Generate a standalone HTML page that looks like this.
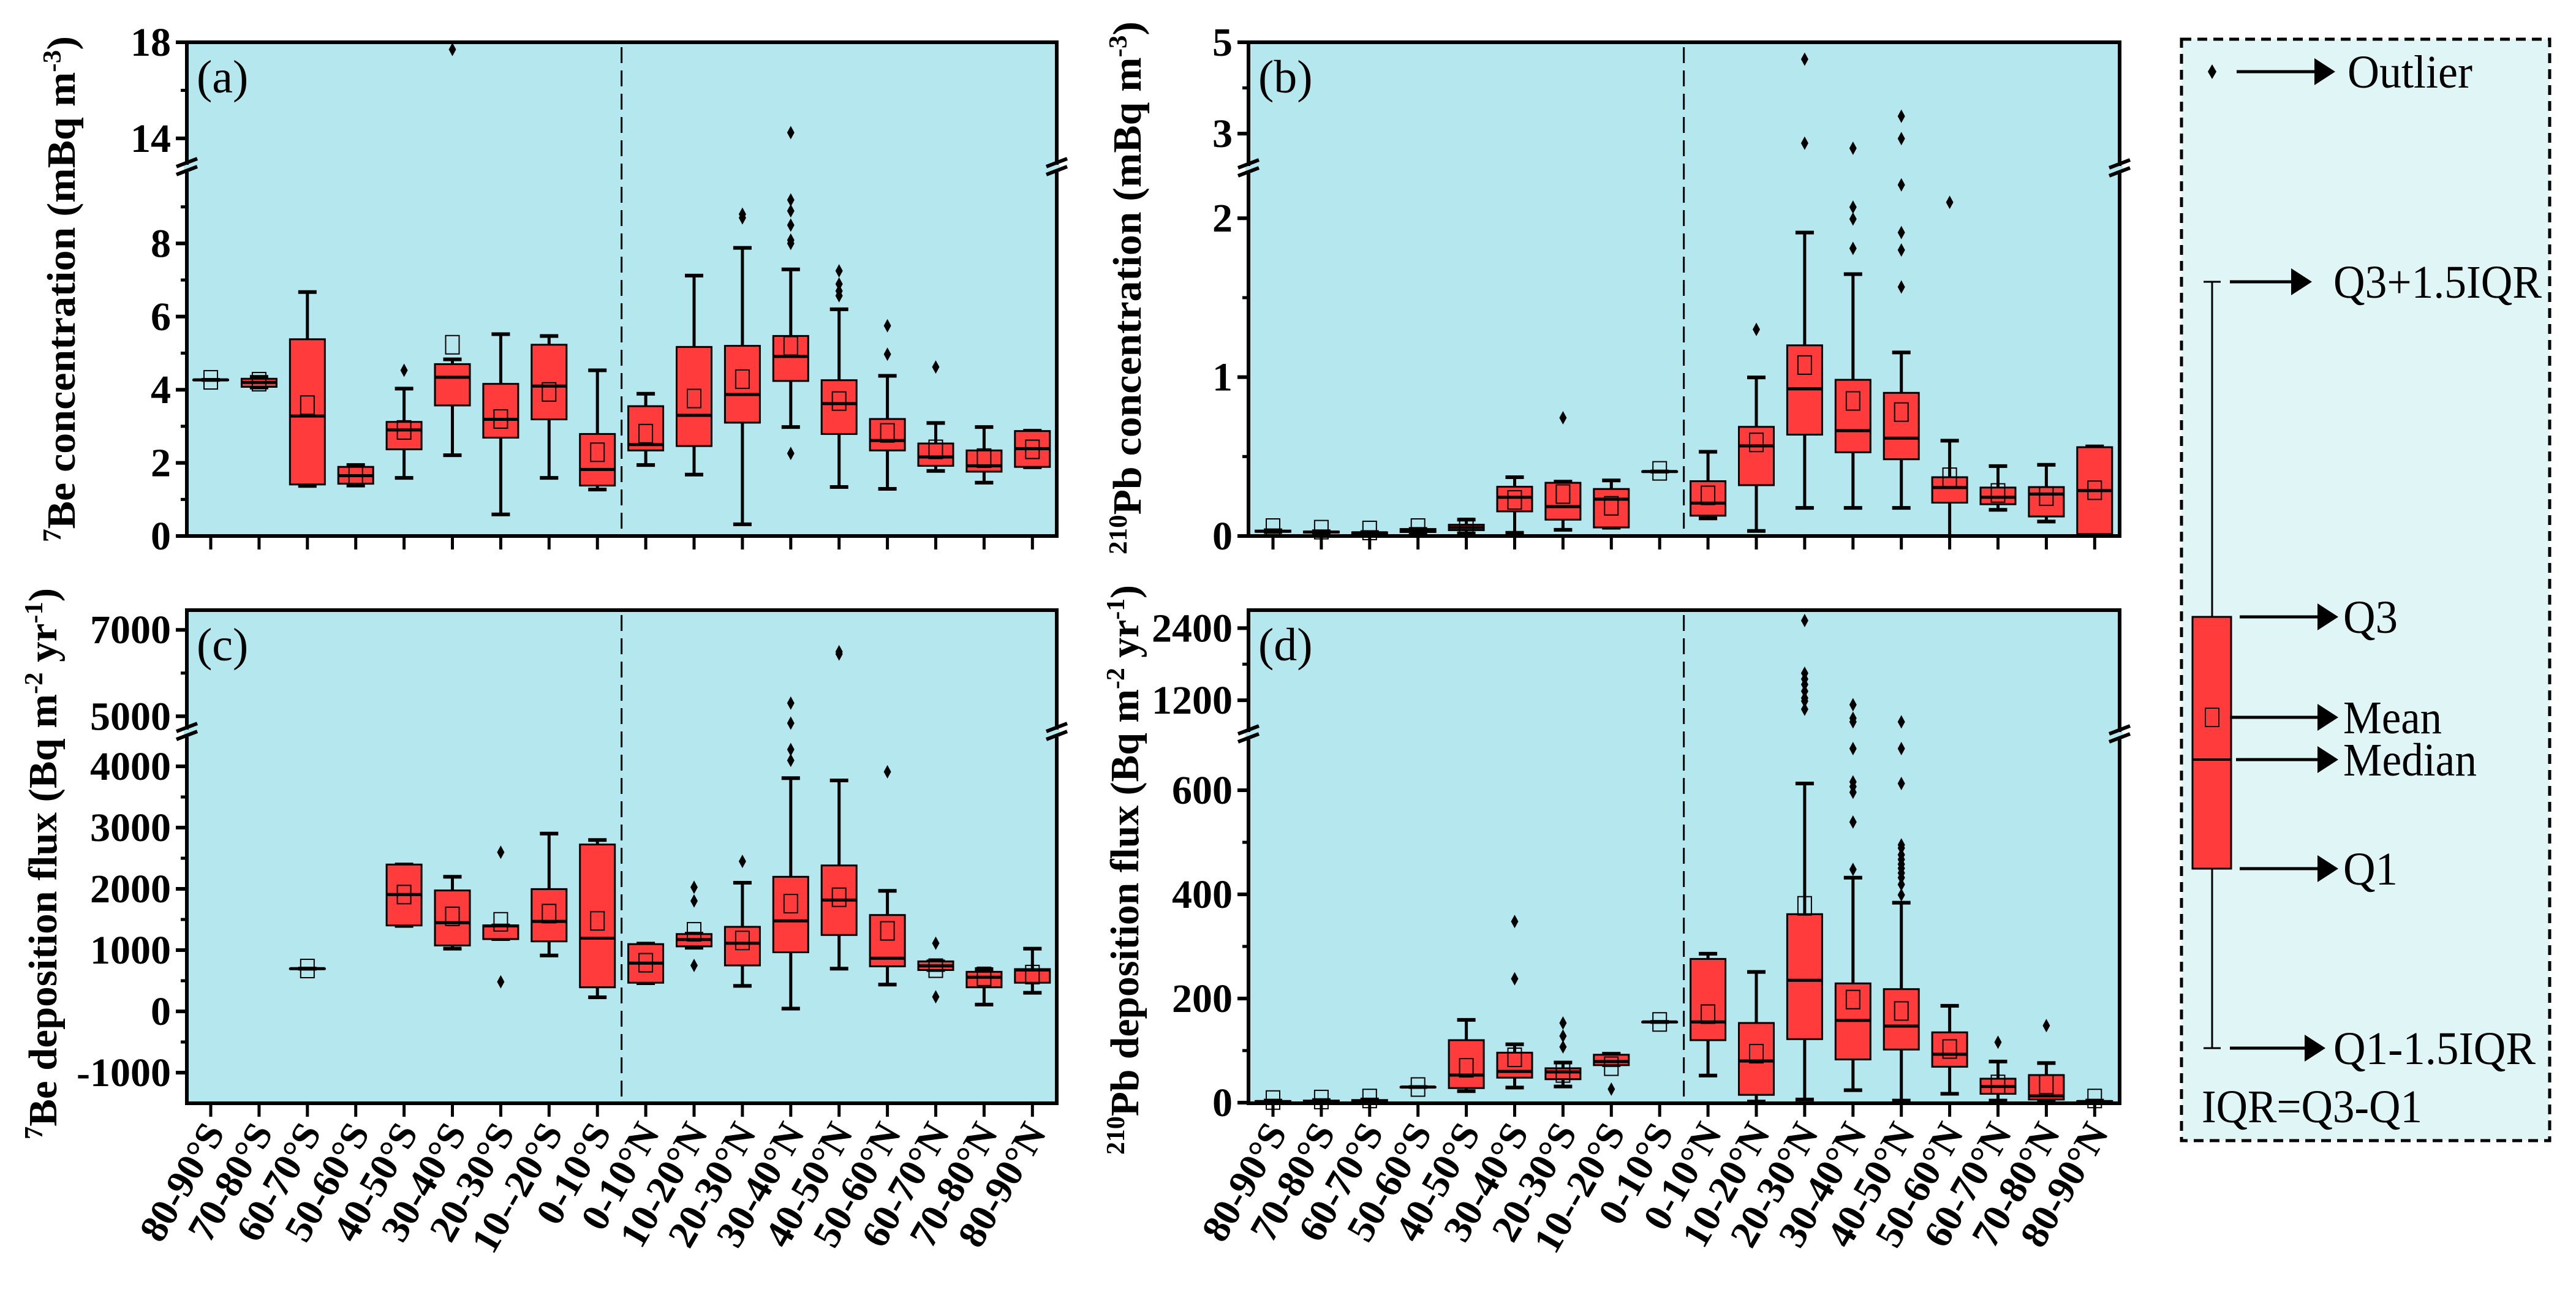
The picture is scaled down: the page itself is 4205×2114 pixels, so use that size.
<!DOCTYPE html>
<html><head><meta charset="utf-8">
<style>
html,body{margin:0;padding:0;background:#fff;}
svg{display:block;}
text{font-family:"Liberation Serif",serif;}
</style></head>
<body>
<svg id="fig" width="4205" height="2114" viewBox="0 0 4205 2114" xmlns="http://www.w3.org/2000/svg">
<g id="root"></g>
</svg>
<script>
const categories=["80-90°S","70-80°S","60-70°S","50-60°S","40-50°S","30-40°S","20-30°S","10--20°S","0-10°S","0-10°N","10-20°N","20-30°N","30-40°N","40-50°N","50-60°N","60-70°N","70-80°N","80-90°N"];

// Panel (a) 7Be concentration
const aLo=[4.27,4.06,1.37,1.38,1.59,2.21,0.59,1.59,1.27,1.94,1.68,0.32,2.98,1.34,1.29,1.78,1.46,1.88];
const aQ1=[4.27,4.08,1.41,1.43,2.37,3.57,2.69,3.19,1.38,2.34,2.46,3.10,4.24,2.79,2.34,1.92,1.76,1.89];
const aMed=[4.27,4.20,3.28,1.65,2.90,4.34,3.19,4.10,1.82,2.50,3.30,3.87,4.91,3.62,2.61,2.16,1.92,2.39];
const aQ3=[4.27,4.30,5.38,1.89,3.12,4.70,4.16,5.23,2.79,3.55,5.17,5.20,5.47,4.26,3.20,2.53,2.34,2.87];
const aHi=[4.27,4.35,6.67,1.94,4.03,4.83,5.52,5.47,4.53,3.89,7.12,7.88,7.29,6.20,4.38,3.09,2.98,2.88];
const aMean=[4.27,4.22,3.58,1.68,2.90,5.23,3.20,3.94,2.29,2.80,3.76,4.29,5.20,3.69,2.82,2.37,2.13,2.37];
const aOut=[[],[],[],[],[4.53],[17.7],[],[],[],[],[],[8.7,8.8],[2.26,8.0,8.09,8.5,8.89,9.19,14.24],[7.25,6.89,6.7,6.57],[4.97,5.75],[4.62],[],[]];

// Panel (b) 210Pb concentration
const bLo=[0.025,0.02,0.015,0.022,0.017,0.02,0.039,0.052,0.406,0.111,0.032,0.177,0.177,0.177,0.0,0.165,0.091,0.007];
const bQ1=[0.027,0.022,0.017,0.025,0.037,0.155,0.103,0.054,0.406,0.128,0.32,0.638,0.527,0.483,0.21,0.2,0.123,0.012];
const bMed=[0.03,0.025,0.02,0.035,0.054,0.244,0.185,0.232,0.406,0.207,0.567,0.926,0.663,0.616,0.305,0.244,0.264,0.286];
const bQ3=[0.034,0.028,0.023,0.044,0.071,0.31,0.335,0.296,0.406,0.345,0.687,1.2,0.983,0.901,0.37,0.305,0.308,0.559];
const bHi=[0.036,0.03,0.025,0.045,0.103,0.37,0.342,0.35,0.406,0.53,0.998,1.91,1.648,1.155,0.6,0.44,0.448,0.564];
const bMean=[0.05,0.04,0.035,0.05,0.054,0.227,0.264,0.19,0.41,0.256,0.589,1.076,0.85,0.78,0.37,0.271,0.251,0.288];
const bOut=[[],[],[],[],[],[],[0.744],[],[],[],[1.3],[2.79,4.63],[1.81,1.995,2.07,2.68],[1.567,1.8,1.91,2.21,2.89,3.38],[2.1],[],[],[]];

// Panel (c) 7Be deposition flux
const cLo=[null,null,698,null,1395,1024,1180,913,230,460,1039,416,45,698,438,675,111,304];
const cQ1=[null,null,698,null,1403,1076,1180,1143,393,468,1061,750,965,1247,735,675,393,468];
const cMed=[null,null,698,null,1907,1447,1395,1469,1195,787,1173,1113,1477,1818,868,742,557,675];
const cQ3=[null,null,698,null,2397,1974,1403,1996,2724,1098,1262,1380,2197,2382,1573,816,646,690];
const cHi=[null,null,698,null,2397,2197,1403,2902,2798,1106,1269,2100,3807,3770,1967,816,690,1024];
const cMean=[null,null,700,null,1907,1551,1462,1596,1477,794,1299,1158,1759,1863,1314,705,571,601];
const cOut=[[],[],[],[],[],[],[2597,482],[],[],[],[2026,1803,750],[2449],[4097,4275,4842,5305],[6442,6494],[3911],[1113,237],[],[]];

// Panel (d) 210Pb deposition flux
const dLo=[0,0,0,30,22,29,31,72,155,52,2,6,24,4,17,4,4,0];
const dQ1=[1,1,1,30,28,48,45,72,155,120,15,122,83,102,69,17,6,1];
const dMed=[2,2,3,30,53,60,59,79,155,155,80,235,158,147,93,31,13,2];
const dQ3=[3,4,5,30,120,96,66,92,155,276,153,362,229,218,135,46,53,3];
const dHi=[4,5,6,30,159,112,77,94,155,286,251,613,432,384,186,79,76,4];
const dMean=[5,6,8,30,67,87,57,70,155,170,94,378,198,176,103,35,35,8];
const dOut=[[],[],[],[],[],[238,348],[107,128,153],[26],[],[],[],[1050,1185,1237,1350,1462,1552,1650,2527],[448,539,596,607,616,680,840,900,1125],[399,419,432,441,450,458,467,476,489,495,613,680,840],[],[116],[148],[]];

const NS="http://www.w3.org/2000/svg";
const root=document.getElementById('root');
function mk(tag,attrs,parent){const e=document.createElementNS(NS,tag);for(const k in attrs)e.setAttribute(k,attrs[k]);(parent||root).appendChild(e);return e;}

function makeScale(segs){
  return function(v){
    let s=segs[0];
    if(v>segs[0].d1) s=segs[1];
    return s.y0+(v-s.d0)/(s.d1-s.d0)*(s.y1-s.y0);
  };
}

const panels=[
 {id:'a',x0:305,x1:1725,y0:69,y1:875,fx:344,segs:[{d0:0,d1:10,y0:875,y1:278},{d0:12.8,d1:18,y0:273,y1:69}],brk:275,
  major:[0,2,4,6,8,14,18],minor:[1,3,5,7,9,16],labels:["0","2","4","6","8","14","18"],
  lo:aLo,q1:aQ1,med:aMed,q3:aQ3,hi:aHi,mean:aMean,out:aOut,title:'a',xl:false},
 {id:'b',x0:2038,x1:3460,y0:69,y1:875,fx:2078,segs:[{d0:0,d1:2.29,y0:875,y1:281},{d0:2.25,d1:5,y0:274,y1:69}],brk:277,
  major:[0,1,2,3,5],minor:[0.5,1.5,4],labels:["0","1","2","3","5"],
  lo:bLo,q1:bQ1,med:bMed,q3:bQ3,hi:bHi,mean:bMean,out:bOut,title:'b',xl:false},
 {id:'c',x0:305,x1:1725,y0:996,y1:1801,fx:344,segs:[{d0:-1500,d1:4510,y0:1801,y1:1200},{d0:4650,d1:7400,y0:1194,y1:1000}],brk:1197,
  major:[-1000,0,1000,2000,3000,4000,5000,7000],minor:[-500,500,1500,2500,3500,6000],labels:["-1000","0","1000","2000","3000","4000","5000","7000"],
  lo:cLo,q1:cQ1,med:cMed,q3:cQ3,hi:cHi,mean:cMean,out:cOut,title:'c',xl:true},
 {id:'d',x0:2038,x1:3460,y0:996,y1:1801,fx:2078,segs:[{d0:0,d1:700,y0:1800,y1:1205},{d0:650,d1:2700,y0:1197,y1:996}],brk:1201,
  major:[0,200,400,600,1200,2400],minor:[100,300,500,1800],labels:["0","200","400","600","1200","2400"],
  lo:dLo,q1:dQ1,med:dMed,q3:dQ3,hi:dHi,mean:dMean,out:dOut,title:'d',xl:true}
];
const STEP=78.9, BW=57, CAP=30;

panels.forEach(p=>{
  const y=makeScale(p.segs);
  const xc=i=>p.fx+i*STEP;
  const g=mk('g',{});
  
  
  const bg=mk('rect',{x:p.x0,y:p.y0,width:p.x1-p.x0,height:p.y1-p.y0,fill:'#b4e7ee'},g);
  
  
  const dx=p.fx+8.5*STEP;
  const dl=mk('line',{x1:dx,x2:dx,y1:p.y0+8,y2:p.y1-4,stroke:'#000','stroke-width':3,'stroke-dasharray':'26,12'},g);
  
  
  categories.forEach((c,i)=>{
    if(p.med[i]===null) return;
    const x=xc(i);
    const bx=mk('g',{},g);
    
    
    mk('line',{x1:x,x2:x,y1:y(p.hi[i]),y2:y(p.lo[i]),stroke:'#000','stroke-width':5},bx);
    mk('line',{x1:x-CAP/2,x2:x+CAP/2,y1:y(p.hi[i]),y2:y(p.hi[i]),stroke:'#000','stroke-width':6},bx);
    mk('line',{x1:x-CAP/2,x2:x+CAP/2,y1:y(p.lo[i]),y2:y(p.lo[i]),stroke:'#000','stroke-width':6},bx);
    const yt=y(p.q3[i]), yb=y(p.q1[i]);
    mk('rect',{x:x-BW/2,y:yt,width:BW,height:Math.max(yb-yt,0.5),fill:'#ff3b3b',stroke:'#000','stroke-width':3},bx);
    mk('line',{x1:x-BW/2,x2:x+BW/2,y1:y(p.med[i]),y2:y(p.med[i]),stroke:'#000','stroke-width':5},bx);
    mk('rect',{x:x-11,y:y(p.mean[i])-15,width:22,height:30,fill:'none',stroke:'#000','stroke-width':2},bx);
    p.out[i].forEach(v=>{
      const oy=y(v);
      const d=mk('path',{d:`M${x},${oy-11} L${x+6},${oy} L${x},${oy+11} L${x-6},${oy} Z`,fill:'#000'},bx);
      
      
    });
  });
  const fr=mk('rect',{x:p.x0,y:p.y0,width:p.x1-p.x0,height:p.y1-p.y0,fill:'none',stroke:'#000','stroke-width':6},g);
  
  
  [p.x0,p.x1].forEach(bxp=>{
    mk('rect',{x:bxp-5,y:p.brk-6,width:10,height:12,fill:'#b4e7ee'},g);
    mk('line',{x1:bxp-17,y1:p.brk-3,x2:bxp+17,y2:p.brk-16,stroke:'#000','stroke-width':6},g);
    mk('line',{x1:bxp-17,y1:p.brk+10,x2:bxp+17,y2:p.brk-3,stroke:'#000','stroke-width':6},g);
  });
  const yax=mk('g',{},g);
  
  
  p.major.forEach((v,k)=>{
    const ty=y(v);
    mk('line',{x1:p.x0-18,x2:p.x0,y1:ty,y2:ty,stroke:'#000','stroke-width':6},yax);
    const t=mk('text',{x:p.x0-26,y:ty+22,'text-anchor':'end','font-size':66,'font-weight':'bold'},yax);
    t.textContent=p.labels[k];
    
    
  });
  p.minor.forEach(v=>{const ty=y(v);mk('line',{x1:p.x0-10,x2:p.x0,y1:ty,y2:ty,stroke:'#000','stroke-width':5},yax);});
  const xax=mk('g',{},g);
  
  
  categories.forEach((c,i)=>{
    const x=xc(i);
    mk('line',{x1:x,x2:x,y1:p.y1,y2:p.y1+22,stroke:'#000','stroke-width':5},xax);
    if(p.xl){
      const t=mk('text',{x:0,y:0,'text-anchor':'end','font-size':64,'font-weight':'bold',transform:`translate(${x+24},${p.y1+48}) rotate(-60)`},xax);
      t.textContent=c;
      
      
    }
  });
  const pl=mk('text',{x:p.x0+16,y:p.y0+82,'font-size':76},g);
  pl.textContent='('+p.title+')';
  
  
});

function ytitle(cx,cy,len,parts,name){
  const t=mk('text',{x:0,y:0,'text-anchor':'middle','font-size':66,'font-weight':'bold',textLength:len,lengthAdjust:'spacingAndGlyphs',transform:`translate(${cx},${cy}) rotate(-90)`});
  
  
  parts.forEach(pt=>{
    const s=mk('tspan',pt[1]?{'baseline-shift':'super','font-size':42}:{},t);
    s.textContent=pt[0];
  });
}
ytitle(122,472,826,[["7",1],["Be concentration (mBq m",0],["-3",1],[")",0]],'y-axis-title-a');
ytitle(1862,470,870,[["210",1],["Pb concentration (mBq m",0],["-3",1],[")",0]],'y-axis-title-b');
ytitle(92,1410,900,[["7",1],["Be deposition flux (Bq m",0],["-2",1],[" yr",0],["-1",1],[")",0]],'y-axis-title-c');
ytitle(1858,1420,930,[["210",1],["Pb deposition flux (Bq m",0],["-2",1],[" yr",0],["-1",1],[")",0]],'y-axis-title-d');

// Legend
const lg=mk('g',{});


mk('rect',{x:3561,y:64,width:601,height:1798,fill:'#dff5f6',stroke:'#000','stroke-width':5,'stroke-dasharray':'16,10'},lg);
mk('path',{d:'M3611,105 L3618,117 L3611,129 L3604,117 Z',fill:'#000'},lg);
mk('line',{x1:3611,x2:3611,y1:460,y2:1711,stroke:'#000','stroke-width':3},lg);
mk('line',{x1:3597,x2:3625,y1:460,y2:460,stroke:'#000','stroke-width':3},lg);
mk('line',{x1:3597,x2:3625,y1:1711,y2:1711,stroke:'#000','stroke-width':3},lg);
mk('rect',{x:3579,y:1007,width:63,height:411,fill:'#ff3b3b',stroke:'#000','stroke-width':3},lg);
mk('line',{x1:3579,x2:3642,y1:1240,y2:1240,stroke:'#000','stroke-width':4},lg);
mk('rect',{x:3600,y:1156,width:22,height:30,fill:'none',stroke:'#000','stroke-width':2},lg);
// [label, y, arrow start, arrow end, text x, text width]
const legItems=[["Outlier",117,3651,3812,3832,204],["Q3+1.5IQR",460,3640,3774,3809,340],["Q3",1007,3656,3817,3825,89],["Mean",1171,3640,3817,3825,161],["Median",1240,3650,3817,3825,218],["Q1",1418,3656,3817,3825,89],["Q1-1.5IQR",1711,3640,3796,3809,330]];
legItems.forEach(it=>{
  const [lab,ly,ax0,ah,tx,tw]=it;
  mk('line',{x1:ax0,x2:ah-30,y1:ly,y2:ly,stroke:'#000','stroke-width':5},lg);
  mk('path',{d:`M${ah-34},${ly-22} L${ah},${ly} L${ah-34},${ly+22} Z`,fill:'#000'},lg);
  const t=mk('text',{x:tx,y:ly+26,'font-size':76,textLength:tw,lengthAdjust:'spacingAndGlyphs'},lg);
  t.textContent=lab;
  
  
});
const iq=mk('text',{x:3594,y:1832,'font-size':76,textLength:360,lengthAdjust:'spacingAndGlyphs'},lg);
iq.textContent='IQR=Q3-Q1';


</script>
</body></html>
